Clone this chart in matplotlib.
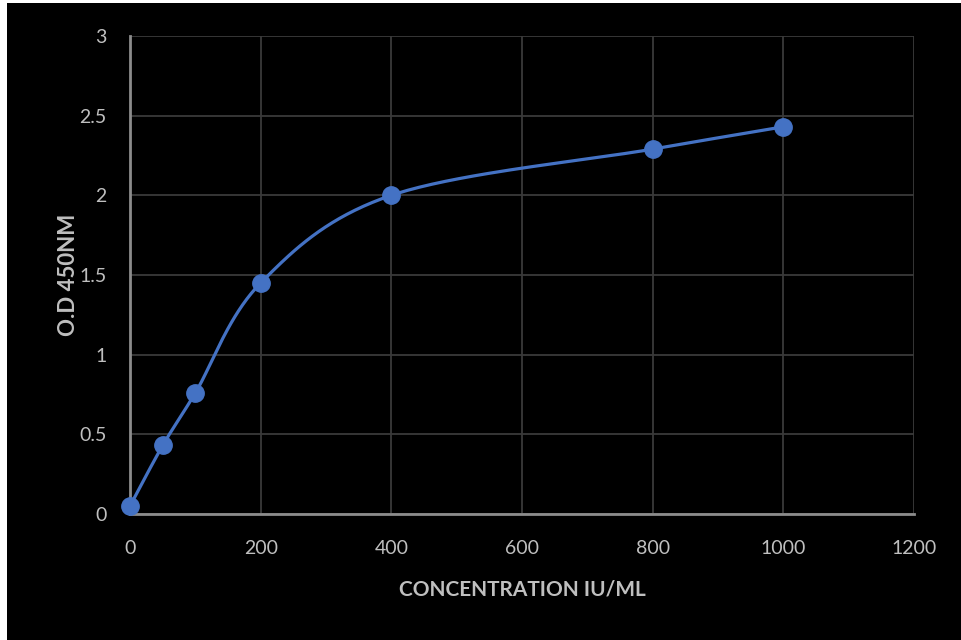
import numpy as np
import matplotlib.pyplot as plt
from matplotlib.patches import Rectangle

# standard curve values
conc = [0, 50, 100, 200, 400, 800, 1000]
od = [0.05, 0.43, 0.76, 1.45, 2.00, 2.29, 2.43]

x_ticks = [0, 200, 400, 600, 800, 1000, 1200]
y_ticks = [0, 0.5, 1, 1.5, 2, 2.5, 3]
y_tick_labels = ['0', '0.5', '1', '1.5', '2', '2.5', '3']

BLUE = '#4472c4'
GREY = '#bfbfbf'


def smooth_line(xs, ys, n=40):
    # bezier smoothing between points, like an office "smoothed line"
    p = np.column_stack([xs, ys]).astype(float)
    pts = []
    for i in range(len(p) - 1):
        p0 = p[i - 1] if i > 0 else p[i]
        p3 = p[i + 2] if i + 2 < len(p) else p[i + 1]
        c1 = p[i] + (p[i + 1] - p0) / 6
        c2 = p[i + 1] - (p3 - p[i]) / 6
        t = np.linspace(0, 1, n)[:, None]
        seg = ((1 - t) ** 3 * p[i] + 3 * (1 - t) ** 2 * t * c1
               + 3 * (1 - t) * t ** 2 * c2 + t ** 3 * p[i + 1])
        pts.append(seg)
    pts = np.vstack(pts)
    return pts[:, 0], pts[:, 1]


plt.rcParams['font.family'] = ['Lato', 'DejaVu Sans']

fig = plt.figure(figsize=(9.61, 6.4), dpi=100, facecolor='black')
ax = fig.add_axes([0.1353, 0.1969, 0.8158, 0.7469])
ax.set_facecolor('black')

sx, sy = smooth_line(conc, od)
ax.plot(sx, sy, color=BLUE, lw=2.3, zorder=3, clip_on=False)
ax.plot(conc, od, 'o', color=BLUE, markersize=12.5, zorder=4, clip_on=False)

ax.set_xlim(0, 1200)
ax.set_ylim(0, 3)
ax.set_xticks(x_ticks)
ax.set_yticks(y_ticks)
ax.set_yticklabels(y_tick_labels)
ax.grid(True, color='#3a3a3a', lw=1.3)
ax.set_axisbelow(True)

for s in ['top', 'right']:
    ax.spines[s].set_visible(False)
for s in ['left', 'bottom']:
    ax.spines[s].set_color('#8c8c8c')
    ax.spines[s].set_linewidth(2)

ax.tick_params(length=0, colors=GREY, labelsize=14)
ax.tick_params(axis='y', pad=17)
ax.tick_params(axis='x', pad=19)

ax.set_xlabel('CONCENTRATION IU/ML', color=GREY, fontsize=15, fontweight='bold', labelpad=16)
ax.set_ylabel('O.D 450NM', color=GREY, fontsize=16, fontweight='bold', labelpad=0)

# white strips at left/top edge of the screenshot
fig.patches.append(Rectangle((0, 0), 7 / 961, 1, transform=fig.transFigure,
                             facecolor='white', edgecolor='none'))
fig.patches.append(Rectangle((0, 1 - 3 / 640), 1, 3 / 640, transform=fig.transFigure,
                             facecolor='white', edgecolor='none'))

fig.savefig('out.png', dpi=100, facecolor='black')
